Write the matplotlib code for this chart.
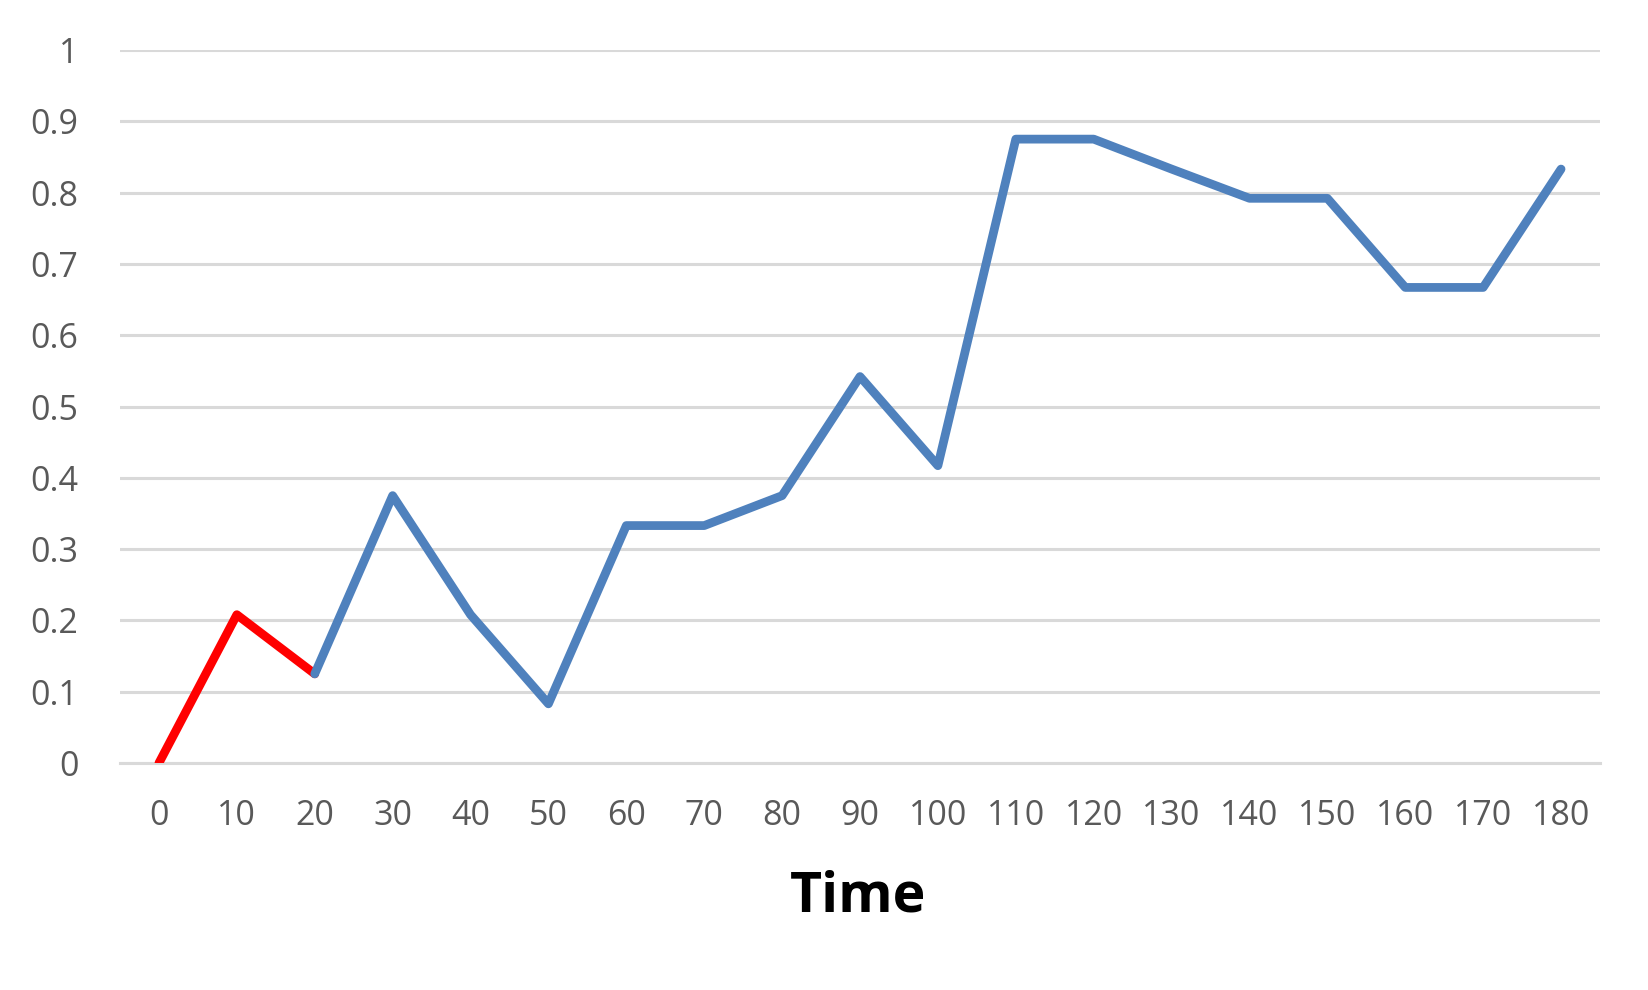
import matplotlib
matplotlib.use("Agg")
import matplotlib.pyplot as plt

times = [0, 10, 20, 30, 40, 50, 60, 70, 80, 90, 100, 110, 120, 130, 140, 150, 160, 170, 180]
values = [0.0, 0.208, 0.125, 0.375, 0.208, 0.083, 0.333, 0.333, 0.375, 0.542, 0.417,
          0.875, 0.875, 0.833, 0.792, 0.792, 0.667, 0.667, 0.833]
red_end = 2  # red segment from first point up to index 2
y_ticks = [0, 0.1, 0.2, 0.3, 0.4, 0.5, 0.6, 0.7, 0.8, 0.9, 1]
y_labels = ["0", "0.1", "0.2", "0.3", "0.4", "0.5", "0.6", "0.7", "0.8", "0.9", "1"]

plt.rcParams['font.family'] = ['Open Sans', 'DejaVu Sans']
fig = plt.figure(figsize=(16.49, 9.90), dpi=100)
ax = fig.add_axes([120/1649, 1 - 763/990, (1600-120)/1649, (763-50)/990])

idx = list(range(len(times)))
ax.plot(idx[:red_end+1], values[:red_end+1], color='#FF0000', lw=6.3,
        solid_capstyle='round', solid_joinstyle='round', zorder=3)
ax.plot(idx[red_end:], values[red_end:], color='#4F81BD', lw=6.3,
        solid_capstyle='round', solid_joinstyle='round', zorder=4)

ax.set_xlim(-0.5, len(times) - 0.5)
ax.set_ylim(0, 1)
ax.set_yticks(y_ticks)
ax.set_yticklabels(y_labels)
ax.set_xticks(idx)
ax.set_xticklabels([str(t) for t in times])
ax.grid(axis='y', color='#D9D9D9', lw=2.2)
ax.set_axisbelow(True)
for s in ax.spines.values():
    s.set_visible(False)
ax.spines['bottom'].set_visible(True)
ax.spines['bottom'].set_color('#D9D9D9')
ax.spines['bottom'].set_linewidth(2.2)
ax.tick_params(axis='both', length=0, labelsize=24.5, colors='#595959')
ax.tick_params(axis='x', pad=26)
ax.tick_params(axis='y', pad=30)
for lab in ax.get_xticklabels() + ax.get_yticklabels():
    lab.set_color('#595959')

fig.text(858/1649, 1 - 897/990, "Time", ha='center', va='center',
         fontsize=40, fontweight='bold', color='black')

fig.savefig("out.png", dpi=100)
